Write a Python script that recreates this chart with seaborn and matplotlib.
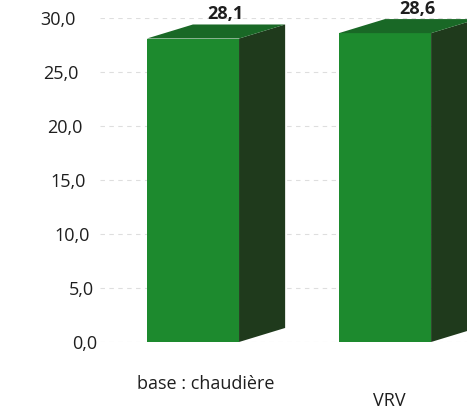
import matplotlib
matplotlib.use("Agg")
import matplotlib.pyplot as plt
import matplotlib.transforms as mtransforms
from matplotlib.patches import Polygon
import pandas as pd
import seaborn as sns

# chart data
categories = ["base : chaudière", "VRV"]
values = [28.1, 28.6]
value_labels = ["28,1", "28,6"]
yticks = [0, 5, 10, 15, 20, 25, 30]
ytick_labels = ["0,0", "5,0", "10,0", "15,0", "20,0", "25,0", "30,0"]

df = pd.DataFrame({"cat": categories, "val": values})

sns.set_theme(style="white")
plt.rcParams["font.family"] = ["Open Sans", "DejaVu Sans"]

front = "#1d8a2e"
top = "#196826"
side = "#1f3a1c"

fig = plt.figure(figsize=(4.67, 4.12), dpi=100)
ax = fig.add_axes([100 / 467, (412 - 342) / 412, 367 / 467, 324 / 412])

sns.barplot(data=df, x="cat", y="val", color=front, saturation=1,
            width=0.48, linewidth=0, ax=ax, zorder=3)

# fake 3d depth, built from the bar patches
dx, dy = 0.24, 1.3
for p, lab in zip(ax.patches, value_labels):
    x0, w, h = p.get_x(), p.get_width(), p.get_height()
    ax.add_patch(Polygon([(x0 + w, 0), (x0 + w + dx, dy), (x0 + w + dx, h + dy), (x0 + w, h)],
                         closed=True, facecolor=side, edgecolor="none", zorder=3))
    ax.add_patch(Polygon([(x0, h), (x0 + dx, h + dy), (x0 + w + dx, h + dy), (x0 + w, h)],
                         closed=True, facecolor=top, edgecolor="none", zorder=3))
    ax.text(x0 + w / 2 + 0.17, h + dy + 0.1, lab, ha="center", va="bottom",
            fontsize=13, fontweight="bold", color="#1e1e1e", clip_on=False)

ax.set_xlim(-0.484, 1.427)
ax.set_ylim(0, 30)
ax.set_yticks(yticks)
ax.set_yticklabels(ytick_labels)
ax.set_xlabel("")
ax.set_ylabel("")
ax.tick_params(axis="both", length=0, labelsize=13, colors="#1e1e1e")
ax.tick_params(axis="y", pad=2)
ax.tick_params(axis="x", pad=24)
ax.yaxis.grid(True, color="#dedede", linestyle=(0, (4, 4)), linewidth=0.8)
ax.set_axisbelow(True)
sns.despine(ax=ax, left=True, bottom=True)

# slanted look of the tick labels in the scan
for lab, v in zip(ax.get_yticklabels(), yticks):
    off = mtransforms.ScaledTranslation(-(v / 30) * 22 / 100, 0, fig.dpi_scale_trans)
    lab.set_transform(lab.get_transform() + off)
for lab, (ox, oy) in zip(ax.get_xticklabels(), [(13, 0), (4, -17)]):
    off = mtransforms.ScaledTranslation(ox / 100, oy / 100, fig.dpi_scale_trans)
    lab.set_transform(lab.get_transform() + off)

fig.savefig("out.png", dpi=100)
